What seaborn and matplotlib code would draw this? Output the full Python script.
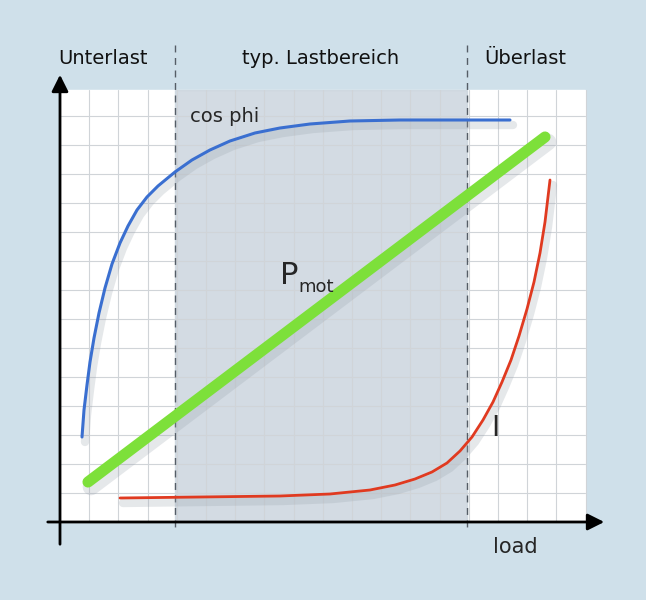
import numpy as np
import pandas as pd
import matplotlib
matplotlib.use("Agg")
import matplotlib.pyplot as plt
import seaborn as sns

# values (pixel-like units, y grows downward)
cos_x = [82, 84, 87, 90, 94, 99, 105, 112, 120, 128, 137, 147, 158, 175, 192, 210,
         230, 255, 280, 310, 350, 400, 460, 510]
cos_y = [437, 410, 385, 362, 338, 313, 288, 264, 243, 226, 210, 197, 186, 172, 160, 150,
         141, 133, 128, 124, 121, 120, 120, 120]
p_x = [88, 545]
p_y = [482, 137]
i_x = [120, 200, 280, 330, 370, 395, 415, 432, 447, 460, 472, 483, 493, 502, 511,
       519, 527, 534, 540, 545, 550]
i_y = [498, 497, 496, 494, 490, 485, 479, 472, 463, 451, 437, 420, 402, 382, 360,
       336, 309, 282, 253, 222, 180]

zones = ["Unterlast", "typ. Lastbereich", "Überlast"]
zone_x = [103, 321, 525]
bounds = [175, 467]

sns.set_style("white")
fig = plt.figure(figsize=(6.46, 6.0), dpi=100, facecolor="#cfe0ea")
ax = fig.add_axes([0, 0, 1, 1])

# white grid area
ax.add_patch(plt.Rectangle((60, 90), 525, 432, color="white", zorder=0))
ax.add_patch(plt.Rectangle((bounds[0], 90), bounds[1] - bounds[0], 432,
                           color="#c9d3dc", alpha=0.8, zorder=1))
for gx in np.arange(60, 586, 29.2):
    ax.plot([gx, gx], [90, 522], color="#d0d4d8", lw=0.8, zorder=1.5)
for gy in np.arange(522, 89, -29):
    ax.plot([60, 585], [gy, gy], color="#d0d4d8", lw=0.8, zorder=1.5)
for b in bounds:
    ax.plot([b, b], [45, 527], color="#555d66", lw=1, ls=(0, (5, 4)), zorder=2)

# axes arrows
ax.annotate("", xy=(607, 522), xytext=(45, 522),
            arrowprops=dict(arrowstyle="-|>", color="black", lw=2, mutation_scale=25), zorder=5)
ax.annotate("", xy=(60, 72), xytext=(60, 547),
            arrowprops=dict(arrowstyle="-|>", color="black", lw=2, mutation_scale=25), zorder=5)

# shadows then curves
df_c = pd.DataFrame({"x": cos_x, "y": cos_y})
df_p = pd.DataFrame({"x": p_x, "y": p_y})
df_i = pd.DataFrame({"x": i_x, "y": i_y})
for d, w in [(df_c, 6), (df_p, 12), (df_i, 6)]:
    ax.plot(d.x + 3, d.y + 5, color="#9aa4ad", lw=w, alpha=0.25, zorder=2.5,
            solid_capstyle="round")
sns.lineplot(data=df_c, x="x", y="y", ax=ax, color="#3a6fd0", lw=2.2, sort=False, zorder=3)
sns.lineplot(data=df_p, x="x", y="y", ax=ax, color="#7de03a", lw=8, sort=False, zorder=3,
             solid_capstyle="round")
sns.lineplot(data=df_i, x="x", y="y", ax=ax, color="#e03a20", lw=2, sort=False, zorder=3)
ax.set_xlim(0, 646)
ax.set_ylim(600, 0)
ax.axis("off")

for t, x in zip(zones, zone_x):
    ax.text(x, 58, t, ha="center", va="center", fontsize=14, color="#111111")
ax.text(225, 117, "cos phi", ha="center", va="center", fontsize=14)
ax.text(280, 275, "P", fontsize=22, ha="left", va="center")
ax.text(298, 287, "mot", fontsize=13, ha="left", va="center")
ax.text(495, 428, "I", fontsize=20, ha="center", va="center")
ax.text(515, 547, "load", fontsize=15, ha="center", va="center")

fig.savefig("out.png", dpi=100, facecolor=fig.get_facecolor())
